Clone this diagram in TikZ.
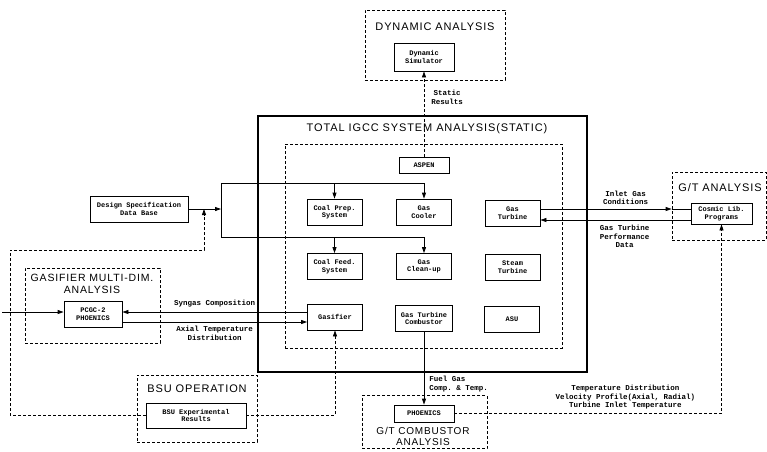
\documentclass[tikz,border=0pt]{standalone}
\usepackage{fontspec}
\setsansfont{Liberation Sans}[LetterSpace=8]
\setmonofont{Liberation Mono}
\usetikzlibrary{arrows.meta}

\begin{document}
\begin{tikzpicture}[x=1pt, y=-1pt,
  comp/.style={draw, line width=0.8pt, align=center, inner sep=1pt, font=\fontsize{7}{7.6}\selectfont\ttfamily\bfseries},
  cell/.style={comp, minimum width=55pt, minimum height=26pt},
  study/.style={draw, densely dashed, line width=0.8pt},
  head/.style={font=\fontsize{11}{12.5}\selectfont\sffamily, align=center, inner sep=1pt},
  lbl/.style={font=\fontsize{7.5}{8.5}\selectfont\ttfamily\bfseries, align=center, inner sep=1pt},
  conn/.style={line width=0.8pt},
  arr/.style={-{Triangle[length=6pt,width=4pt]}, line width=0.8pt},
]
\useasboundingbox (0,0) rectangle (767,451);

% analysis blocks
\node[study, minimum width=140pt, minimum height=70pt] (dynana) at (435,45) {};
\node[head] (dyntitle) at (435,27) {DYNAMIC ANALYSIS};
\node[comp, minimum width=60pt, minimum height=28pt] (dynsim) at (424,57) {Dynamic\\Simulator};

\node[draw, line width=2.4pt, minimum width=329pt, minimum height=256pt] (igcc) at (422.5,244) {};
\node[head] (igcctitle) at (427,129) {TOTAL IGCC SYSTEM ANALYSIS(STATIC)};
\node[study, minimum width=277pt, minimum height=204pt] (aspenbox) at (423.5,246) {};

\node[study, minimum width=135pt, minimum height=75pt] (gasana) at (92.5,305.5) {};
\node[head, font=\fontsize{10.5}{12}\selectfont\sffamily] (gastitle) at (92,284) {GASIFIER MULTI-DIM.\\ANALYSIS};
\node[comp, minimum width=58pt, minimum height=26pt] (pcgc) at (93,314) {PCGC-2\\PHOENICS};

\node[study, minimum width=120pt, minimum height=67pt] (bsuop) at (197,408.5) {};
\node[head] (bsutitle) at (197,389) {BSU OPERATION};
\node[comp, minimum width=100pt, minimum height=25pt] (bsuexp) at (196,415.5) {BSU Experimental\\Results};

\node[study, minimum width=125pt, minimum height=53pt] (gtcana) at (424.5,422) {};
\node[comp, minimum width=60pt, minimum height=17pt] (phoenics) at (424,413.5) {PHOENICS};
\node[head, font=\fontsize{10}{10.5}\selectfont\sffamily] (gtctitle) at (423,436.5) {G/T COMBUSTOR\\ANALYSIS};

\node[study, minimum width=94pt, minimum height=68pt] (gtana) at (719,206) {};
\node[head] (gttitle) at (720,188) {G/T ANALYSIS};
\node[comp, minimum width=61pt, minimum height=21pt] (cosmic) at (721.5,213.5) {Cosmic Lib.\\Programs};

\node[comp, minimum width=98pt, minimum height=26pt] (design) at (139,209) {Design Specification\\Data Base};

% ASPEN models
\node[comp, minimum width=50pt, minimum height=16pt] (aspen) at (424,165.5) {ASPEN};
\node[cell] (coalprep) at (334.5,212) {Coal Prep.\\System};
\node[cell] (gascool) at (424,212) {Gas\\Cooler};
\node[cell] (gasturb) at (512.5,213) {Gas\\Turbine};
\node[cell] (coalfeed) at (334.5,266.5) {Coal Feed.\\System};
\node[cell] (gasclean) at (424,266.5) {Gas\\Clean-up};
\node[cell] (steamturb) at (512.5,267) {Steam\\Turbine};
\node[cell] (gasifier) at (335,317) {Gasifier};
\node[cell, minimum width=57pt] (gtcomb) at (424,318.5) {Gas Turbine\\Combustor};
\node[cell] (asu) at (512,319.5) {ASU};

% design data to the models
\coordinate (brk) at (221,209);
\coordinate (brtop) at (221,183);
\coordinate (brbot) at (221,237);
\draw[arr] (design.east) -- (brk);
\draw[conn] (brtop) -- (brbot);
\draw[arr] (brtop) -| (gascool.north);
\draw[arr] (coalprep.north |- brtop) -- (coalprep.north);
\draw[arr] (brbot) -| (gasclean.north);
\draw[arr] (coalfeed.north |- brbot) -- (coalfeed.north);

% static results
\draw[arr, densely dashed] (aspen.north) -- (dynsim.south)
  node[lbl, pos=0.7, right=6pt] {Static\\Results};

% gasifier links
\coordinate (syn) at ([yshift=5pt]gasifier.west);
\coordinate (axt) at ([yshift=-5pt]gasifier.west);
\draw[arr] (syn) -- (syn -| pcgc.east)
  node[lbl, pos=0.5, above=4pt] {Syngas Composition};
\draw[arr] (axt -| pcgc.east) -- (axt)
  node[lbl, pos=0.5, below=3pt] {Axial Temperature\\Distribution};

% BSU results
\coordinate (lc) at (10,250);
\coordinate (dsin) at (204,209);
\coordinate (pin) at (2,312);
\draw[arr, densely dashed] (bsuexp.west) -| (lc) -| (dsin);
\draw[arr] (pin) -- (pin -| pcgc.west);
\draw[arr, densely dashed] (bsuexp.east) -| (gasifier.south);

% combustor
\draw[arr] (gtcomb.south) -- (phoenics.north)
  node[lbl, pos=0.72, right=4pt, align=left] {Fuel Gas\\Comp. \& Temp.};
\draw[arr, densely dashed] (phoenics.east) -| (cosmic.south)
  node[lbl, pos=0.32, above=3pt] {Temperature Distribution\\Velocity Profile(Axial, Radial)\\Turbine Inlet Temperature};

% gas turbine
\coordinate (igin) at ([yshift=4pt]gasturb.east);
\coordinate (gtp) at ([yshift=-7pt]gasturb.east);
\draw[arr] (igin) -- (igin -| gtana.west)
  node[lbl, pos=0.65, above=3pt] {Inlet Gas\\Conditions};
\draw[conn] (igin -| gtana.west) -- (igin -| cosmic.west);
\draw[arr] (gtp -| cosmic.west) -- (gtp)
  node[lbl, pos=0.44, below=4pt] {Gas Turbine\\Performance\\Data};
\end{tikzpicture}
\end{document}
